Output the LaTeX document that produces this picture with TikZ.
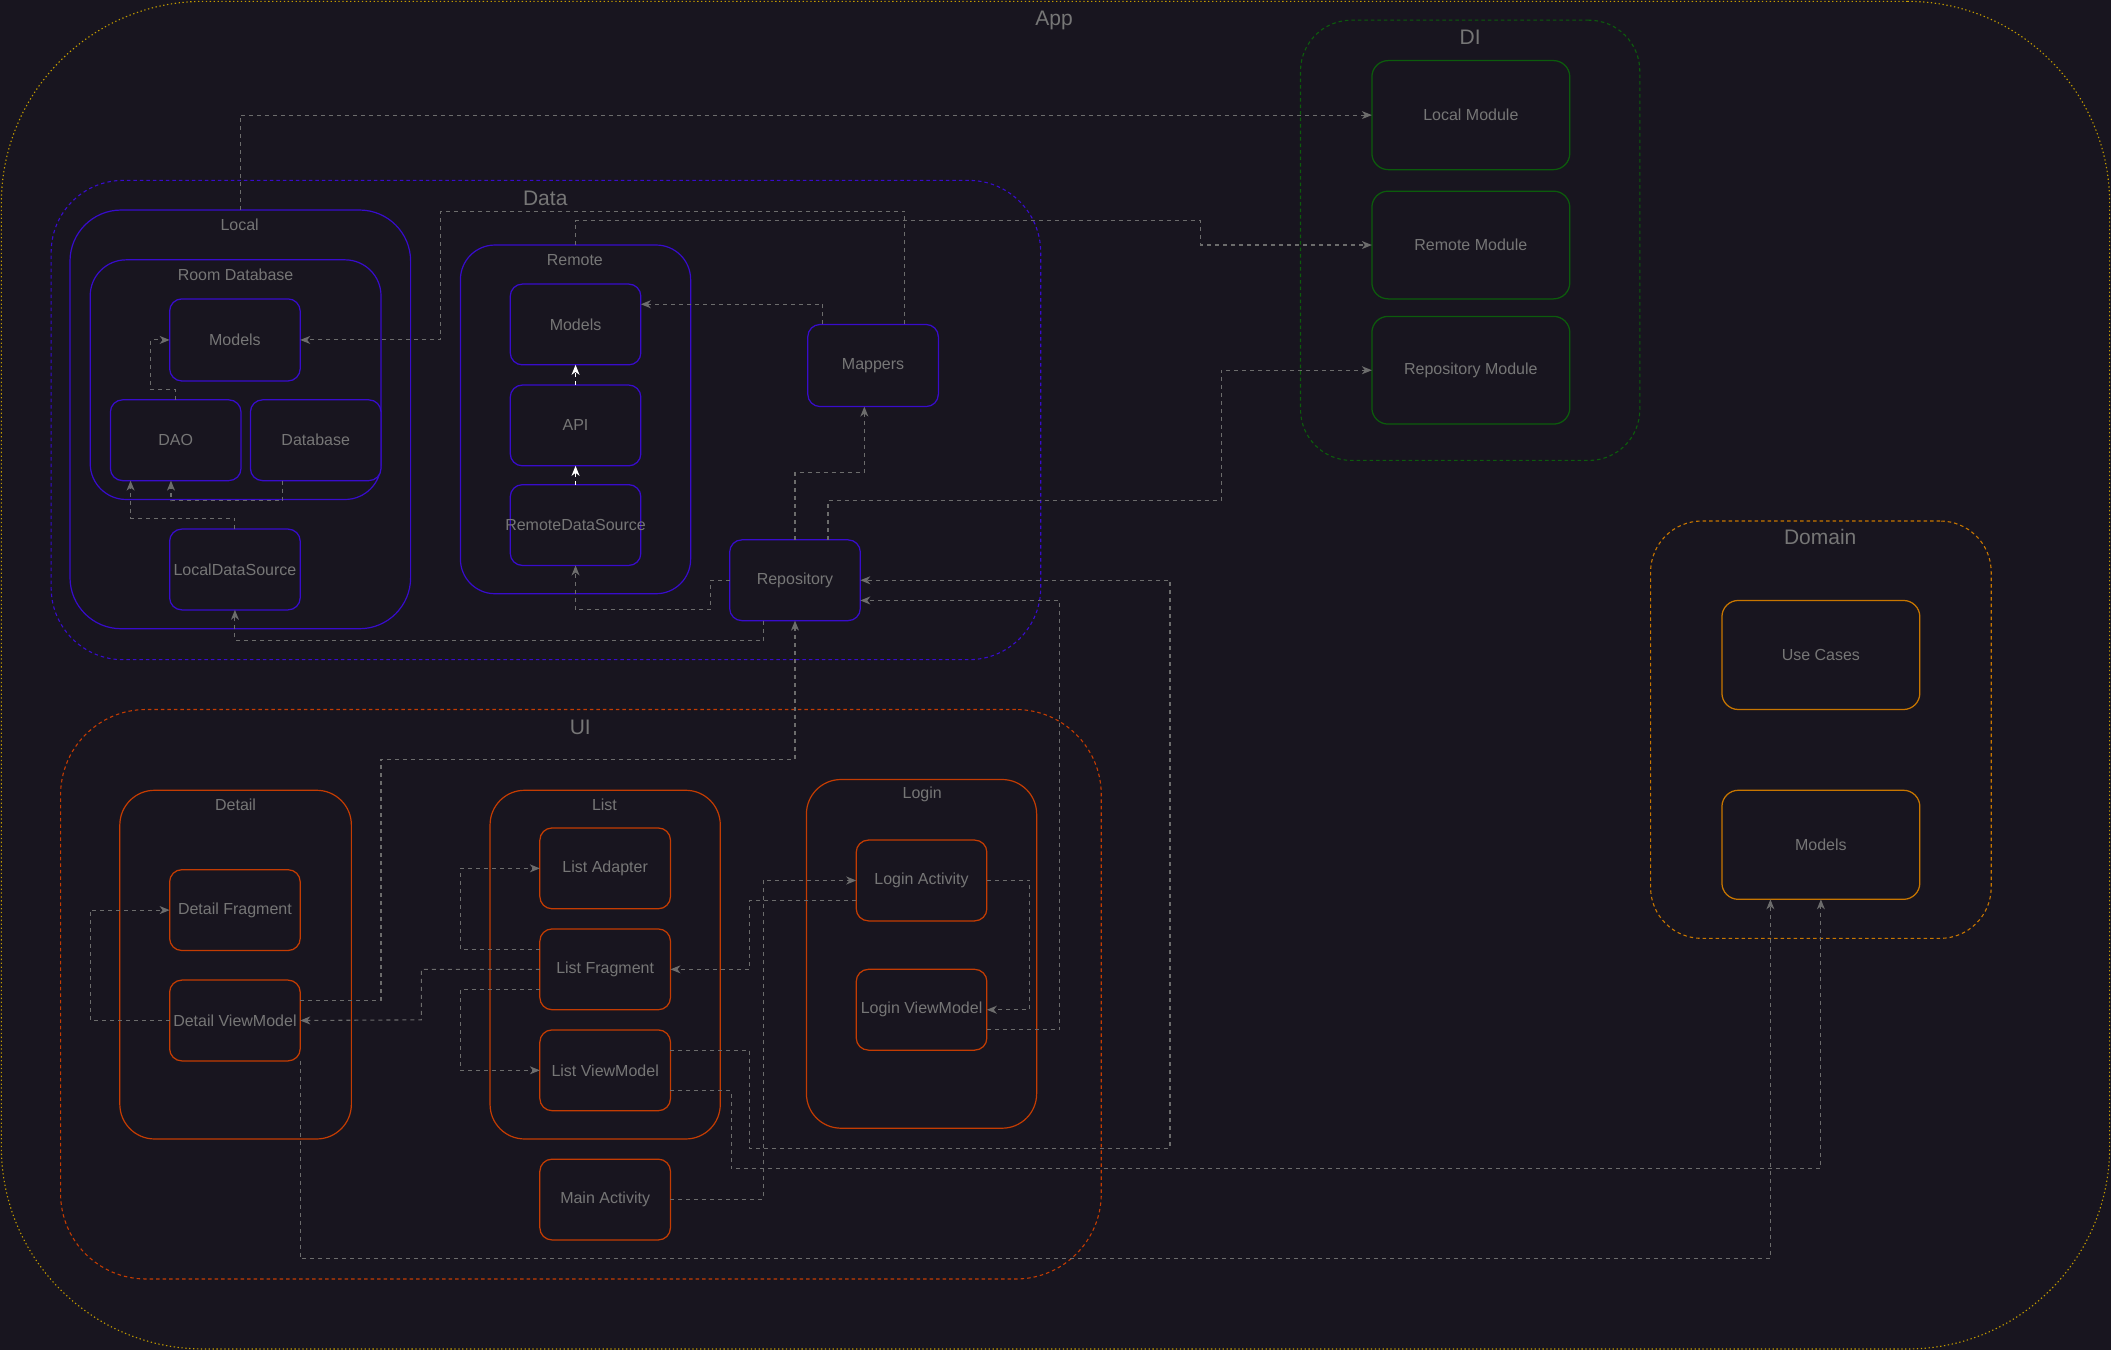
\documentclass[tikz,border=0pt]{standalone}
\usepackage{fontspec}
\setmainfont{Liberation Sans}
\usetikzlibrary{arrows.meta,calc}

\definecolor{bgc}{RGB}{24,21,31}
\definecolor{txt}{RGB}{118,118,118}
\definecolor{cline}{RGB}{108,108,108}
\definecolor{cblue}{RGB}{56,12,204}
\definecolor{cgreen}{RGB}{12,92,12}
\definecolor{corange}{RGB}{200,118,0}
\definecolor{cred}{RGB}{196,60,2}
\definecolor{cyellow}{RGB}{196,156,0}

% rounded box from corner (#3,#4) to corner (#5,#6), label #7 set as its own node
\newcommand\mkbox[7]{%
  \node[#1, minimum width={(#5-#3)*1.3463pt}, minimum height={(#6-#4)*1.3463pt},
        rounded corners={0.15*min(#5-#3,#6-#4)*1.3463pt}]
        (#2) at ({(#3+#5)/2},{(#4+#6)/2}) {};
  \node[lbl] (#2t) at (#2.center) {#7};}

\tikzset{
  lbl/.style={text=txt, font=\fontsize{16}{19}\selectfont, inner sep=0pt},
  bigttl/.style={text=txt, font=\fontsize{21}{25}\selectfont, inner sep=0pt},
  shapebase/.style={draw, fill=bgc, inner sep=0pt, outer sep=0pt},
  grp/.style={shapebase, line width=1.2pt},
  dgrp/.style={shapebase, line width=1.1pt, dash pattern=on 3.5pt off 3pt},
  box/.style={shapebase, line width=1.25pt},
  ygrp/.style={shapebase, draw=cyellow, line width=1.1pt, dash pattern=on 1.3pt off 2.6pt},
  gdgrp/.style={dgrp, draw=cgreen},
  bdgrp/.style={dgrp, draw=cblue},
  odgrp/.style={dgrp, draw=corange},
  rdgrp/.style={dgrp, draw=cred},
  bgrp/.style={grp, draw=cblue},
  rgrp/.style={grp, draw=cred},
  bbox/.style={box, draw=cblue},
  gbox/.style={box, draw=cgreen},
  obox/.style={box, draw=corange},
  rbox/.style={box, draw=cred},
  conn/.style={draw=cline, line width=1.1pt, dash pattern=on 4pt off 4pt,
    -{Stealth[length=10pt,width=8pt,inset=3pt]}},
  wconn/.style={conn, draw=white},
}

\begin{document}
\begin{tikzpicture}[x=1.3463pt, y=-1.3463pt]
\fill[bgc] (0,0) rectangle (1568,1003);
\useasboundingbox (0,0) rectangle (1568,1003);

% outer groups
\mkbox{ygrp}{app}{1}{1}{1567}{1002}{}
\mkbox{gdgrp}{di}{966}{15}{1218}{342}{}
\mkbox{bdgrp}{data}{38}{134}{773}{490}{}
\mkbox{odgrp}{dom}{1226}{387}{1479}{697}{}
\mkbox{rdgrp}{ui}{45}{527}{818}{950}{}

% inner groups
\mkbox{bgrp}{local}{52}{156}{305}{467}{}
\mkbox{bgrp}{room}{67}{193}{283}{371}{}
\mkbox{bgrp}{remote}{342}{182}{513}{441}{}
\mkbox{rgrp}{detail}{89}{587}{261}{846}{}
\mkbox{rgrp}{list}{364}{587}{535}{846}{}
\mkbox{rgrp}{login}{599}{579}{770}{838}{}

% group titles
\node[bigttl] (appT) at (783,15) {App};
\node[bigttl] (diT) at (1092,28) {DI};
\node[bigttl] (dataT) at (405,147) {Data};
\node[bigttl] (domT) at (1352,399) {Domain};
\node[bigttl] (uiT) at (431,540) {UI};
\node[lbl] (localT) at (178,167) {Local};
\node[lbl] (roomT) at (175,204) {Room Database};
\node[lbl] (remoteT) at (427,193) {Remote};
\node[lbl] (detailT) at (175,598) {Detail};
\node[lbl] (listT) at (449,598) {List};
\node[lbl] (loginT) at (685,590) {Login};

% data layer
\mkbox{bbox}{lmod}{126}{222}{223}{283}{Models}
\mkbox{bbox}{dao}{82}{297}{179}{357}{DAO}
\mkbox{bbox}{dbase}{186}{297}{283}{357}{Database}
\mkbox{bbox}{lds}{126}{393}{223}{453}{LocalDataSource}
\mkbox{bbox}{rmod}{379}{211}{476}{271}{Models}
\mkbox{bbox}{api}{379}{286}{476}{346}{API}
\mkbox{bbox}{rds}{379}{360}{476}{420}{RemoteDataSource}
\mkbox{bbox}{mapp}{600}{241}{697}{302}{Mappers}
\mkbox{bbox}{repo}{542}{401}{639}{461}{Repository}

% dependency injection
\mkbox{gbox}{locmod}{1019}{45}{1166}{126}{Local Module}
\mkbox{gbox}{remmod}{1019}{142}{1166}{222}{Remote Module}
\mkbox{gbox}{repmod}{1019}{235}{1166}{315}{Repository Module}

% domain
\mkbox{obox}{uc}{1279}{446}{1426}{527}{Use Cases}
\mkbox{obox}{dmod}{1279}{587}{1426}{668}{Models}

% ui layer
\mkbox{rbox}{dfrag}{126}{646}{223}{706}{Detail Fragment}
\mkbox{rbox}{dvm}{126}{728}{223}{788}{Detail ViewModel}
\mkbox{rbox}{ladp}{401}{615}{498}{675}{List Adapter}
\mkbox{rbox}{lfrag}{401}{690}{498}{750}{List Fragment}
\mkbox{rbox}{lvm}{401}{765}{498}{825}{List ViewModel}
\mkbox{rbox}{lact}{636}{624}{733}{684}{Login Activity}
\mkbox{rbox}{lovm}{636}{720}{733}{780}{Login ViewModel}
\mkbox{rbox}{mact}{401}{861}{498}{921}{Main Activity}

% connectors
\draw[conn] (local.north) |- (locmod.west);
\draw[conn] ($(mapp.north)+(23.5,0)$) |- (327,157) |- (lmod.east);
\draw[conn] (remote.north) |- (892,164) |- (remmod.west);
\draw[conn] ($(mapp.north)+(-37.5,0)$) |- ($(rmod.east)+(0,-15)$);
\draw[wconn] (api.north) -- (rmod.south);
\draw[wconn] (rds.north) -- (api.south);
\draw[conn] (dao.north) |- (112,289) |- (lmod.west);
\draw[conn] ($(dbase.south)+(-24.5,0)$) |- (127,372) -- ($(dao.south)+(-3.5,0)$);
\draw[conn] (lds.north) |- (97,385) -- ($(dao.south)+(-33.5,0)$);
\draw[conn] (repo.north) |- (642,351) -- ($(mapp.south)+(-6.5,0)$);
\draw[conn] ($(repo.north)+(24.5,0)$) |- (907,372) |- (repmod.west);
\draw[conn] (repo.west) -| (528,453) -| (rds.south);
\draw[conn] ($(repo.south)+(-23.5,0)$) |- ($(lds.south)+(0,23)$) -- (lds.south);
\draw[conn] ($(dvm.east)+(0,-15)$) -| (283,564) -| (repo.south);
\draw[conn] ($(lvm.east)+(0,-15)$) -| (557,853) -| (869,431) -- (repo.east);
\draw[conn] ($(lvm.east)+(0,15)$) -| (543,868) -| (dmod.south);
\draw[conn] ($(lovm.east)+(0,15)$) -| (787,446) -- ($(repo.east)+(0,15)$);
\draw[conn] (lact.east) -| (765,750) -- (lovm.east);
\draw[conn] (mact.east) -| (567,654) -- (lact.west);
\draw[conn] ($(lact.west)+(0,15)$) -| (557,720) -- (lfrag.east);
\draw[conn] ($(lfrag.west)+(0,-15)$) -| (342,645) -- (ladp.west);
\draw[conn] (lfrag.west) -| (313,757.5) -- (dvm.east);
\draw[conn] ($(lfrag.west)+(0,15)$) -| (342,795) -- (lvm.west);
\draw[conn] (dvm.west) -| (67,676) -- (dfrag.west);
\draw[conn] (dvm.south east) |- (1315,935) -- ($(dmod.south)+(-37.5,0)$);
\end{tikzpicture}
\end{document}
